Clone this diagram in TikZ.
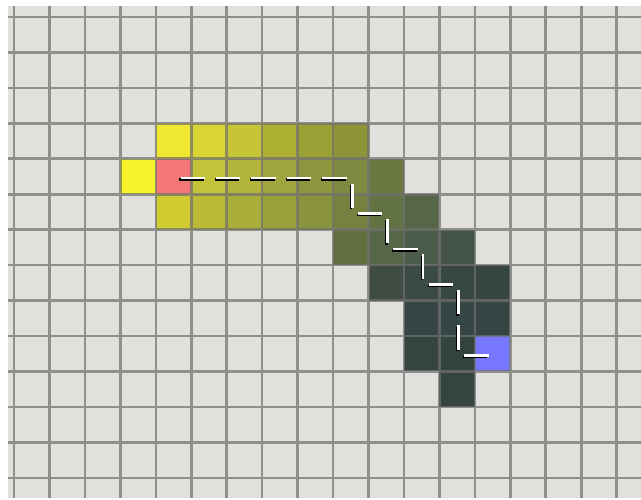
\documentclass[tikz,border=0pt]{standalone}
\definecolor{bgc}{HTML}{E0E0DC}
\definecolor{lnc}{HTML}{707070}
\definecolor{yel}{HTML}{F7F22A}
\definecolor{pnk}{HTML}{F47676}
\definecolor{blu}{HTML}{7878FF}
\tikzset{
  gridline/.style={draw=lnc, draw opacity=0.72, line width=2.6pt},
  shadowdash/.style={draw=black, line width=2.5pt, shorten <=5.5pt, shorten >=5.5pt,
     transform canvas={xshift=-1.1pt,yshift=-1.5pt}},
  whitedash/.style={draw=white, line width=2.5pt, shorten <=5.5pt, shorten >=5.5pt},
}
\newcommand\gx[1]{14+35.45*(#1)}
\newcommand\gy[1]{17+35.45*(#1)}
\newcommand\cellfill[3]{\definecolor{cellc}{HTML}{#3}\fill[cellc] ({\gx{#1}},{\gy{#2}}) rectangle ++(35.45,35.45);}
\begin{document}
\begin{tikzpicture}[x=1pt,y=-1pt]
\useasboundingbox (0,0) rectangle (641,500);
\fill[white] (0,0) rectangle (641,500);
\fill[bgc] (8,6) rectangle (641,498);
% row 3
\foreach \c/\h in {4/EEE830,5/D9D533,6/C6C538,7/AEB034,8/9CA136,9/8E9538}
  {\cellfill{\c}{3}{\h}}
% row 4
\fill[yel] ({\gx{3}},{\gy{4}}) rectangle ++(35.45,35.45);
\fill[pnk] ({\gx{4}},{\gy{4}}) rectangle ++(35.45,35.45);
\foreach \c/\h in {5/C4C43A,6/B2B43C,7/A0A540,8/8E963D,9/7F8A40,10/6A7842}
  {\cellfill{\c}{4}{\h}}
% row 5
\foreach \c/\h in {4/CFCB30,5/BBBA36,6/AAAD3A,7/9AA03A,8/8A933D,9/75823F,10/637242,11/566648}
  {\cellfill{\c}{5}{\h}}
% row 6
\foreach \c/\h in {9/627040,10/566648,11/4C5C4A,12/44544A}
  {\cellfill{\c}{6}{\h}}
% row 7
\foreach \c/\h in {10/3E4C42,11/3A4A44,12/374844,13/354643}
  {\cellfill{\c}{7}{\h}}
% row 8
\foreach \c/\h in {11/364644,12/354644,13/344543}
  {\cellfill{\c}{8}{\h}}
% row 9
\foreach \c/\h in {11/34453F,12/33443F}
  {\cellfill{\c}{9}{\h}}
\fill[blu] ({\gx{13}},{\gy{9}}) rectangle ++(35.45,35.45);
% row 10
\cellfill{12}{10}{34443F}
% grid
\draw[gridline]
  foreach \i in {0,...,17} { ({\gx{\i}},6) -- ({\gx{\i}},498) }
  foreach \j in {0,...,13} { (8,{\gy{\j}}) -- (641,{\gy{\j}}) };
% path coordinates (cell centres)
\foreach \n/\c/\r in {0/4/4,1/5/4,2/6/4,3/7/4,4/8/4,5/9/4,6/9/5,7/10/5,8/10/6,9/11/6,10/11/7,11/12/7,12/12/8,13/12/9,14/13/9}
  {\coordinate (p\n) at ({\gx{\c+0.5}+1.5},{\gy{\r+0.5}+1.5});}
\foreach \a/\b in {0/1,1/2,2/3,3/4,4/5,5/6,6/7,7/8,8/9,9/10,10/11,11/12,12/13,13/14}
  {\draw[shadowdash] (p\a) -- (p\b);
   \draw[whitedash] (p\a) -- (p\b);}
\end{tikzpicture}
\end{document}
